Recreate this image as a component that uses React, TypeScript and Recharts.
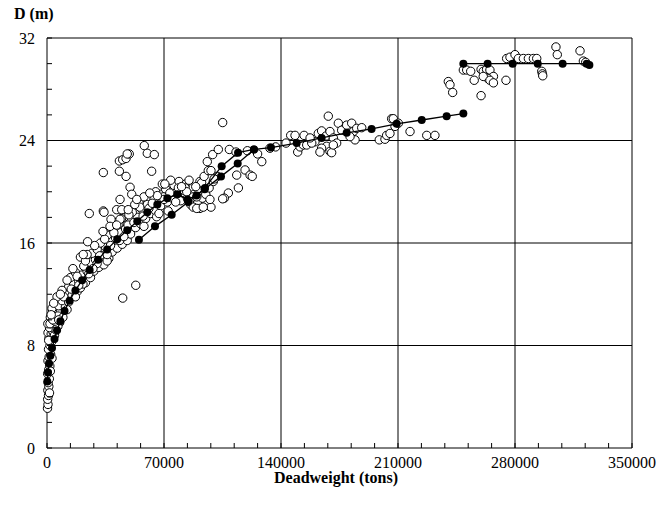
import { ScatterChart, Scatter, XAxis, YAxis, ReferenceLine } from 'recharts';

// x = deadweight (tons), y = depth D (m)
const observedShips: [number, number][] = [
  // small ships, near-vertical stack
  [300, 3.1], [600, 3.4], [400, 3.8], [900, 4.1], [500, 4.5], [1100, 4.8], [700, 5.1], [1400, 5.4],
  [400, 5.8], [1000, 6.1], [1700, 6.4], [600, 6.8], [1300, 7.1], [2200, 7.3], [900, 7.7], [1800, 8.0],
  [2800, 8.3], [1200, 8.6], [600, 9.0], [2500, 8.9], [3500, 9.1], [1500, 9.4], [500, 9.7], [2200, 9.7],
  [4000, 9.7], [5800, 9.8], [7600, 9.8], [3200, 8.6], [4500, 8.8], [5500, 9.2], [6500, 9.5],
  [1000, 8.4], [2000, 6.0], [3000, 7.0], [1500, 4.3], [1800, 9.7], [4800, 9.9],
  // main band
  [2000, 10.2], [5000, 10.4], [8000, 10.6], [3000, 10.9], [7000, 11.1], [11000, 11.0], [9000, 11.5],
  [13000, 11.4], [6000, 11.8], [11000, 12.0], [15000, 11.9], [18000, 12.2], [13000, 12.6], [20000, 12.5],
  [9000, 12.3], [16000, 12.8], [19000, 13.0], [23000, 12.9], [14000, 13.3], [21000, 13.5], [26000, 13.3],
  [17000, 13.7], [24000, 13.8], [28000, 13.8], [31000, 14.1], [22000, 14.2], [26000, 14.5], [34000, 14.3],
  [29000, 14.7], [20000, 14.9], [33000, 15.0], [37000, 14.8], [27000, 15.2], [30000, 15.5], [39000, 15.3],
  [35000, 15.7], [42000, 15.6], [32000, 16.0], [38000, 16.1], [45000, 15.9], [41000, 16.4], [48000, 16.2],
  [36000, 16.6], [44000, 16.8], [50000, 16.7], [47000, 17.1], [39000, 17.2], [53000, 17.2], [43000, 17.5],
  [56000, 17.5], [50000, 17.8], [46000, 18.0], [54000, 18.0], [59000, 17.9], [62000, 18.3], [51000, 18.4],
  [57000, 18.6], [65000, 18.5], [60000, 19.0], [68000, 18.9], [55000, 19.2], [72000, 19.2], [64000, 19.4],
  [75000, 19.5], [58000, 19.6], [68000, 19.8], [78000, 19.8], [82000, 20.1], [71000, 20.2], [86000, 20.3],
  [76000, 20.5], [65000, 20.0], [80000, 19.3], [84000, 19.5], [88000, 19.8], [91000, 20.0], [79000, 20.8],
  [83000, 20.6], [74000, 20.9], [69000, 20.6], [86000, 19.0], [90000, 19.1], [93000, 19.5], [95000, 19.8],
  [69600, 19.6], [78600, 20.3], [82600, 20.3], [83600, 20.0], [87500, 19.6], [89600, 19.6], [91500, 20.8],
  [92500, 20.7], [87500, 18.8], [91500, 18.7], [98100, 18.8], [89600, 18.7], [93500, 18.8], [97500, 19.4],
  [65600, 18.05],
  [3500, 10.0], [6500, 10.3], [9500, 10.2], [4000, 11.3], [12000, 10.8], [10000, 11.8], [14500, 12.4],
  [8000, 12.0], [17000, 11.8], [21500, 12.8], [12000, 13.1], [18000, 13.4], [25000, 13.6], [15500, 14.0],
  [23000, 14.6], [30000, 14.4], [27500, 14.0], [36000, 14.6], [24000, 15.1], [31500, 15.0], [38000, 15.8],
  [28500, 15.8], [34500, 16.3], [43500, 16.2], [40000, 16.8], [46000, 16.5], [33500, 16.9], [41500, 17.6],
  [48500, 17.4], [52000, 17.6], [44500, 17.9], [57500, 18.1], [49000, 18.2], [55500, 18.8], [61000, 18.7],
  [52500, 19.0], [63000, 19.1], [70000, 19.4], [66000, 19.7], [73500, 19.9], [61500, 19.9], [70500, 20.6],
  [80500, 20.4], [85000, 20.9], [77000, 19.2], [89000, 20.4], [94000, 21.2], [97000, 20.3], [99500, 20.8],
  [72500, 18.5], [67000, 18.3], [58000, 17.3], [36000, 15.1], [19000, 12.7], [7000, 10.0], [2500, 10.4],
  // scattered above the band
  [58200, 23.6], [60000, 23.0], [64200, 22.9], [43300, 22.4], [45300, 22.5], [47300, 22.6], [49200, 22.95],
  [48000, 22.95], [33700, 21.5], [43300, 21.6], [47300, 21.2], [62600, 21.6], [49700, 20.35], [50700, 19.8],
  [53700, 19.4], [43700, 19.4], [25300, 18.3], [33700, 18.5], [38300, 17.85], [37700, 17.3], [41700, 18.6],
  [44700, 18.6], [48600, 18.6], [43700, 17.85], [24300, 16.1], [21700, 15.1], [53100, 12.7], [45300, 11.7],
  [34100, 18.4], [41700, 17.4],
  // 95k - 140k
  [105100, 25.4], [95900, 22.35], [99100, 22.9], [102500, 23.3], [109100, 23.3], [113100, 23.1],
  [119900, 23.2], [126000, 22.95], [128500, 22.35], [133400, 23.4], [136800, 23.5], [96500, 21.65],
  [98100, 21.65], [101900, 21.2], [113500, 21.3], [118500, 21.7], [121500, 21.3], [122800, 21.2],
  [114500, 20.3], [108500, 19.9], [106100, 19.5], [105100, 19.45], [100000, 21.0],
  // 140k - 190k
  [143000, 23.8], [145800, 24.4], [148400, 24.4], [153800, 24.4], [150000, 23.1], [151400, 23.5],
  [153400, 23.65], [155400, 23.65], [160300, 23.9], [158400, 23.8], [157400, 24.2], [168300, 25.9],
  [162300, 24.55], [164300, 24.75], [166900, 24.35], [169300, 24.7], [171300, 24.2], [173300, 23.8],
  [174300, 25.35], [176300, 24.8], [179300, 25.2], [182300, 25.35], [183300, 24.7], [184300, 24.05],
  [167300, 23.55], [169300, 23.15], [164300, 23.4], [181300, 24.3], [185300, 24.95], [163300, 23.1],
  [170300, 23.05], [171300, 23.65], [188300, 25.0],
  // 195k - 235k
  [198800, 24.05], [202200, 24.1], [203200, 24.4], [205200, 24.55], [206200, 25.7], [207200, 25.7],
  [208200, 25.1], [210200, 25.35], [217200, 24.7], [227200, 24.4], [232100, 24.4],
  // large ships
  [240100, 28.6], [241100, 28.35], [242700, 27.75], [259700, 27.5], [249100, 29.5], [251100, 29.5],
  [253500, 29.4], [255600, 28.7], [259700, 29.55], [261000, 29.4], [263000, 29.55], [265000, 29.5],
  [267100, 29.0], [263700, 28.85], [261000, 29.0], [265000, 28.7], [267100, 28.5], [274600, 28.7],
  [275000, 30.4], [277000, 30.5], [280000, 30.7], [282000, 30.4], [285000, 30.4], [288000, 30.4],
  [291000, 30.4], [293000, 30.4], [296000, 29.4], [296400, 29.2], [296600, 29.05], [304500, 31.3],
  [305300, 30.7], [318900, 31.0], [320900, 30.2], [322300, 30.1],
];

const upperFit: [number, number][] = [
  [200, 5.2], [600, 5.9], [1200, 6.6], [2000, 7.2], [3000, 7.8], [4500, 8.5], [6000, 9.2], [8000, 9.9],
  [10500, 10.7], [13500, 11.5], [17000, 12.3], [21000, 13.1], [25500, 13.9], [30500, 14.7], [36000, 15.5],
  [42000, 16.3], [48000, 17.0], [54000, 17.7], [60000, 18.4], [66000, 19.0], [72000, 19.5], [78000, 19.8],
  [84000, 19.4], [89500, 19.7], [94500, 20.3], [104500, 22.0], [114300, 23.05], [123800, 23.3],
  [134000, 23.45], [149400, 23.8], [164300, 24.2], [179300, 24.6], [194200, 24.9], [209200, 25.3],
  [224200, 25.6], [239100, 25.9], [249100, 26.1],
];

const lowerFit: [number, number][] = [
  [55000, 16.25], [64600, 17.3], [74600, 18.2], [84500, 19.2], [94300, 20.2], [104100, 21.2],
  [114100, 22.2], [123800, 23.3],
];

const vlccFit: [number, number][] = [
  [249100, 30.0], [263600, 30.0], [278600, 30.0], [293600, 30.0], [308500, 30.0], [322900, 30.0],
  [324500, 29.9],
];

const xTicks = [
  0, 14000, 28000, 42000, 56000, 70000, 84000, 98000, 112000, 126000, 140000, 154000, 168000, 182000,
  196000, 210000, 224000, 238000, 252000, 266000, 280000, 294000, 308000, 322000, 336000, 350000,
];
const yTicks = [0, 2, 4, 6, 8, 10, 12, 14, 16, 18, 20, 22, 24, 26, 28, 30, 32];
const xLabelled = [0, 70000, 140000, 210000, 280000, 350000];
const yLabelled = [0, 8, 16, 24, 32];
const xGrid = [70000, 140000, 210000, 280000, 350000];
const yGrid = [8, 16, 24, 32];

const FONT = 'Liberation Serif, DejaVu Serif, serif';

const toPoints = (rows: [number, number][]) => rows.map(([x, y]) => ({ x, y }));

function XTick({ x, y, payload }: any) {
  const v = payload.value;
  return (
    <g>
      <line x1={x} x2={x} y1={y} y2={y - 5} stroke="#000" />
      {xLabelled.includes(v) && (
        <text x={x} y={y + 20} textAnchor="middle" style={{ fontSize: 16, fontFamily: FONT }} fill="#000">
          {v}
        </text>
      )}
    </g>
  );
}

function YTick({ x, y, payload }: any) {
  const v = payload.value;
  return (
    <g>
      <line x1={x} x2={x + 5} y1={y} y2={y} stroke="#000" />
      {yLabelled.includes(v) && (
        <text x={x - 12} y={y + 5.5} textAnchor="end" style={{ fontSize: 16, fontFamily: FONT }} fill="#000">
          {v}
        </text>
      )}
    </g>
  );
}

const openDot = (p: any) => (
  <circle cx={p.cx} cy={p.cy} r={4.2} fill="#fff" stroke="#000" strokeWidth={1} />
);
const filledDot = (p: any) => <circle cx={p.cx} cy={p.cy} r={4} fill="#000" />;

export default function App() {
  return (
    <div style={{ position: 'relative', width: 656, height: 500, fontFamily: FONT }}>
      <ScatterChart width={656} height={500} margin={{ top: 30, right: 32, bottom: 20, left: 9 }}>
        <XAxis
          type="number"
          dataKey="x"
          domain={[0, 350000]}
          ticks={xTicks}
          interval={0}
          tickSize={0}
          tickMargin={0}
          tickLine={false}
          tick={<XTick />}
          height={40}
          axisLine={{ stroke: '#000' }}
        />
        <YAxis
          type="number"
          dataKey="y"
          domain={[0, 32]}
          ticks={yTicks}
          interval={0}
          tickSize={0}
          tickMargin={0}
          tickLine={false}
          tick={<YTick />}
          width={30}
          axisLine={{ stroke: '#000' }}
        />
        {xGrid.map((v) => (
          <ReferenceLine key={'x' + v} x={v} stroke="#000" strokeWidth={1} />
        ))}
        {yGrid.map((v) => (
          <ReferenceLine key={'y' + v} y={v} stroke="#000" strokeWidth={1} />
        ))}
        <Scatter data={toPoints(observedShips)} shape={openDot} isAnimationActive={false} />
        <Scatter
          data={toPoints(upperFit)}
          shape={filledDot}
          line={{ stroke: '#000', strokeWidth: 1.3 }}
          lineType="joint"
          isAnimationActive={false}
        />
        <Scatter
          data={toPoints(lowerFit)}
          shape={filledDot}
          line={{ stroke: '#000', strokeWidth: 1.3 }}
          lineType="joint"
          isAnimationActive={false}
        />
        <Scatter
          data={toPoints(vlccFit)}
          shape={filledDot}
          line={{ stroke: '#000', strokeWidth: 1.3 }}
          lineType="joint"
          isAnimationActive={false}
        />
      </ScatterChart>
      <div
        style={{
          position: 'absolute',
          left: 6,
          top: -3,
          fontSize: 16,
          fontWeight: 'bold',
          lineHeight: '18px',
          whiteSpace: 'nowrap',
        }}
      >
        D (m)
      </div>
      <div
        style={{
          position: 'absolute',
          left: 328,
          top: 461,
          transform: 'translateX(-50%)',
          fontSize: 16,
          fontWeight: 'bold',
          lineHeight: '18px',
          whiteSpace: 'nowrap',
        }}
      >
        Deadweight (tons)
      </div>
    </div>
  );
}
